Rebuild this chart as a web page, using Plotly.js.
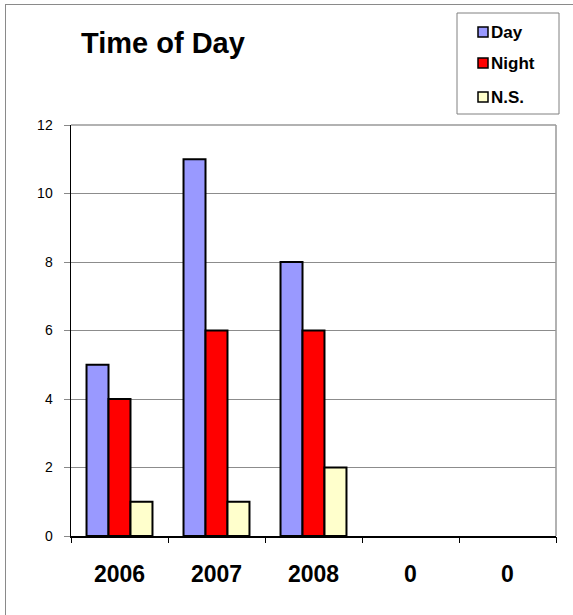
<!DOCTYPE html>
<html>
<head>
<meta charset="utf-8">
<script src="https://cdn.plot.ly/plotly-3.0.1.min.js"></script>
<style>
  html, body { margin: 0; padding: 0; background: #fff; }
  #wrap { position: relative; width: 573px; height: 615px; }
  #chart { position: absolute; left: 0; top: 0; width: 573px; height: 615px; }
  #frame { position: absolute; left: 5px; top: 4px; width: 568px; height: 611px;
           border-left: 1px solid #8a8a8a; border-top: 1px solid #8a8a8a; pointer-events: none; }
</style>
</head>
<body>
<div id="wrap">
  <div id="chart"></div>
  <div id="frame"></div>
</div>
<script>
const categories = ["2006", "2007", "2008", "0", "0"];
const seriesNames = ["Day", "Night", "N.S."];
const dayValues = [5, 11, 8, null, null];
const nightValues = [4, 6, 6, null, null];
const nsValues = [1, 1, 2, null, null];
const yTicks = [0, 2, 4, 6, 8, 10, 12];

const FONT = "Arial, 'Liberation Sans', sans-serif";
const COLORS = ["#9999FF", "#FF0000", "#FFFFCC"];
const xPos = categories.map((c, i) => i);
const boundaries = [];
for (let i = 0; i <= categories.length; i++) boundaries.push(i - 0.5);

// plot area in pixels (for placing the legend box)
const PL = 71, PR = 556, PT = 125, PB = 536;
const px = v => (v - PL) / (PR - PL);
const py = v => (PB - v) / (PB - PT);

function bar(name, vals, color) {
  return {
    type: "bar", name: name, x: xPos, y: vals,
    marker: { color: color, line: { color: "#000", width: 2 } },
    hoverinfo: "skip", showlegend: false
  };
}

const data = [
  bar(seriesNames[0], dayValues, COLORS[0]),
  bar(seriesNames[1], nightValues, COLORS[1]),
  bar(seriesNames[2], nsValues, COLORS[2]),
  { type: "scatter", x: [boundaries[0]], y: [0], xaxis: "x2", yaxis: "y",
    mode: "markers", marker: { opacity: 0 }, showlegend: false, hoverinfo: "skip" }
];

const shapes = [
  { type: "line", xref: "paper", yref: "paper", x0: 1, x1: 1, y0: 0, y1: 1,
    line: { color: "#999", width: 1.5 } },
  { type: "line", xref: "paper", yref: "paper", x0: 0, x1: 1, y0: 1, y1: 1,
    line: { color: "#999", width: 1.5 } },
  // legend box
  { type: "rect", xref: "paper", yref: "paper", x0: px(457), x1: px(559), y0: py(114), y1: py(13),
    fillcolor: "#fff", line: { color: "#808080", width: 1 } }
];
const annotations = [];
const legendY = [32, 63, 97];
seriesNames.forEach((n, i) => {
  shapes.push({ type: "rect", xref: "paper", yref: "paper",
    x0: px(478), x1: px(488), y0: py(legendY[i] + 5), y1: py(legendY[i] - 5),
    fillcolor: COLORS[i], line: { color: "#000", width: 1.5 } });
  annotations.push({ xref: "paper", yref: "paper", x: px(489), y: py(legendY[i] + 0.5),
    xanchor: "left", yanchor: "middle", showarrow: false, text: "<b>" + n + "</b>",
    font: { family: FONT, size: 17, color: "#000" } });
});

const layout = {
  width: 573, height: 615,
  margin: { l: PL, r: 573 - PR, t: PT, b: 615 - PB },
  paper_bgcolor: "#fff", plot_bgcolor: "#fff",
  font: { family: FONT, color: "#000" },
  barmode: "group", bargap: 0.32, bargroupgap: 0,
  showlegend: false,
  title: {
    text: "<b>Time of Day</b>", font: { family: FONT, size: 29, color: "#000" },
    xref: "container", yref: "container", x: 81 / 573, xanchor: "left",
    y: 1 - 43 / 615, yanchor: "middle"
  },
  xaxis: {
    range: [-0.5, 4.5], tickmode: "array", tickvals: xPos, ticktext: categories,
    ticks: "", showgrid: false, zeroline: false,
    showline: true, linecolor: "#000", linewidth: 1.5,
    tickfont: { family: FONT, size: 23, color: "#000", weight: "bold" },
    ticklabelstandoff: 17, fixedrange: true
  },
  xaxis2: {
    overlaying: "x", anchor: "y", range: [-0.5, 4.5],
    tickmode: "array", tickvals: boundaries, ticks: "outside", ticklen: 6,
    tickcolor: "#000", tickwidth: 1, showticklabels: false,
    showgrid: false, zeroline: false, showline: false, fixedrange: true
  },
  yaxis: {
    range: [0, 12], tickmode: "array", tickvals: yTicks,
    ticks: "outside", ticklen: 6, tickcolor: "#888", tickwidth: 1,
    showgrid: true, gridcolor: "#8c8c8c", gridwidth: 1, zeroline: false,
    showline: true, linecolor: "#000", linewidth: 1.5,
    tickfont: { family: FONT, size: 14, color: "#000" },
    ticklabelstandoff: 8, fixedrange: true
  },
  shapes: shapes,
  annotations: annotations
};

Plotly.newPlot("chart", data, layout, { displayModeBar: false, staticPlot: true });
</script>
</body>
</html>
